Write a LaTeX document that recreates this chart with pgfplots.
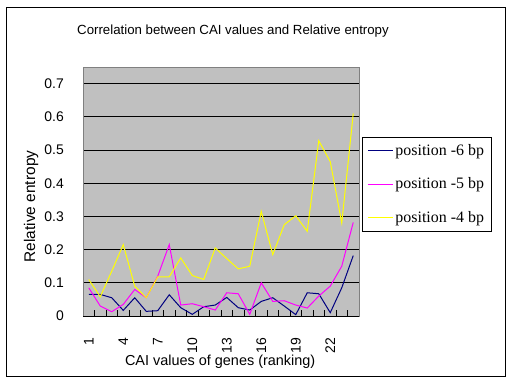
\documentclass[border=0pt]{standalone}
\usepackage{pgfplots}
\pgfplotsset{compat=1.18}
\usepackage{fontspec}
\setmainfont{Liberation Sans}
\newfontfamily\seriffont{Liberation Serif}
\definecolor{bgray}{HTML}{C0C0C0}
\definecolor{navyc}{HTML}{000080}
\definecolor{magc}{HTML}{FF00FF}
\definecolor{yelc}{HTML}{FFFF00}
\begin{document}
\begin{tikzpicture}[x=1bp,y=1bp]
\path[use as bounding box] (0,0) rectangle (512,384);
\draw[black, line width=1bp] (6,8) rectangle (505.5,376.5);
\node[font=\fontsize{13.3}{16}\selectfont] at (233,353) {Correlation between CAI values and Relative entropy};
\begin{axis}[
  at={(83bp,68bp)}, anchor=south west,
  scale only axis, width=276bp, height=249bp,
  xmin=0.5, xmax=24.5, ymin=0, ymax=0.75,
  axis background/.style={fill=bgray},
  axis line style={draw=gray, line width=0.8bp},
  xtick={1,4,7,10,13,16,19,22},
  minor xtick={0.5,1.5,...,24.5},
  xtick pos=bottom, ytick pos=left,
  major x tick style={draw=none},
  minor tick length=6bp,
  tick align=inside,
  minor tick style={black, line width=0.8bp},
  ytick={0,0.1,0.2,0.3,0.4,0.5,0.6,0.7},
  major y tick style={draw=none},
  ymajorgrids, major grid style={black, line width=0.8bp},
  /pgf/number format/assume math mode=true,
  /pgf/number format/.cd, fixed, precision=1, /pgfplots/.cd,
  tick label style={font=\fontsize{14}{16}\selectfont},
  xticklabel style={rotate=90, anchor=east, inner sep=0pt},
  xticklabel shift=22bp,
  yticklabel style={anchor=east, inner sep=0pt},
  yticklabel shift=19bp,
  xlabel={CAI values of genes (ranking)},
  xlabel style={at={(axis description cs:0.497,-0.185)}, anchor=center, font=\fontsize{14.5}{17}\selectfont},
  ylabel={Relative entropy},
  ylabel style={at={(axis description cs:-0.188,0.44)}, anchor=center, rotate=0, font=\fontsize{15.5}{18}\selectfont},
  legend style={at={(axis description cs:1.011,0.719)}, anchor=north west, draw=black, line width=0.8bp, fill=white,
    font=\seriffont\fontsize{16}{19}\selectfont, inner xsep=5bp, inner ysep=5bp, row sep=17bp},
  legend cell align=left,
  legend image code/.code={\draw[#1, line width=1bp] (0bp,0bp) -- (25bp,0bp);},
  after end axis/.append code={\draw[black, line width=0.8bp] (rel axis cs:0,0) -- (rel axis cs:1,0);},
]
\addplot[navyc, line width=1bp] coordinates {
(1,0.065) (2,0.065) (3,0.055) (4,0.017) (5,0.055) (6,0.014) (7,0.016) (8,0.064)
(9,0.025) (10,0.005) (11,0.028) (12,0.033) (13,0.056) (14,0.025) (15,0.018) (16,0.044)
(17,0.055) (18,0.030) (19,0.004) (20,0.070) (21,0.067) (22,0.010) (23,0.085) (24,0.182)};
\addlegendentry{position -6 bp}
\addplot[magc, line width=1bp] coordinates {
(1,0.085) (2,0.030) (3,0.013) (4,0.035) (5,0.080) (6,0.055) (7,0.120) (8,0.215)
(9,0.033) (10,0.037) (11,0.028) (12,0.018) (13,0.070) (14,0.067) (15,0.005) (16,0.100)
(17,0.044) (18,0.046) (19,0.033) (20,0.024) (21,0.060) (22,0.090) (23,0.150) (24,0.282)};
\addlegendentry{position -5 bp}
\addplot[yelc, line width=1bp] coordinates {
(1,0.110) (2,0.058) (3,0.135) (4,0.215) (5,0.090) (6,0.055) (7,0.118) (8,0.118)
(9,0.175) (10,0.122) (11,0.110) (12,0.205) (13,0.173) (14,0.142) (15,0.150) (16,0.315)
(17,0.185) (18,0.275) (19,0.302) (20,0.255) (21,0.528) (22,0.465) (23,0.280) (24,0.610)};
\addlegendentry{position -4 bp}
\end{axis}
\end{tikzpicture}
\end{document}
